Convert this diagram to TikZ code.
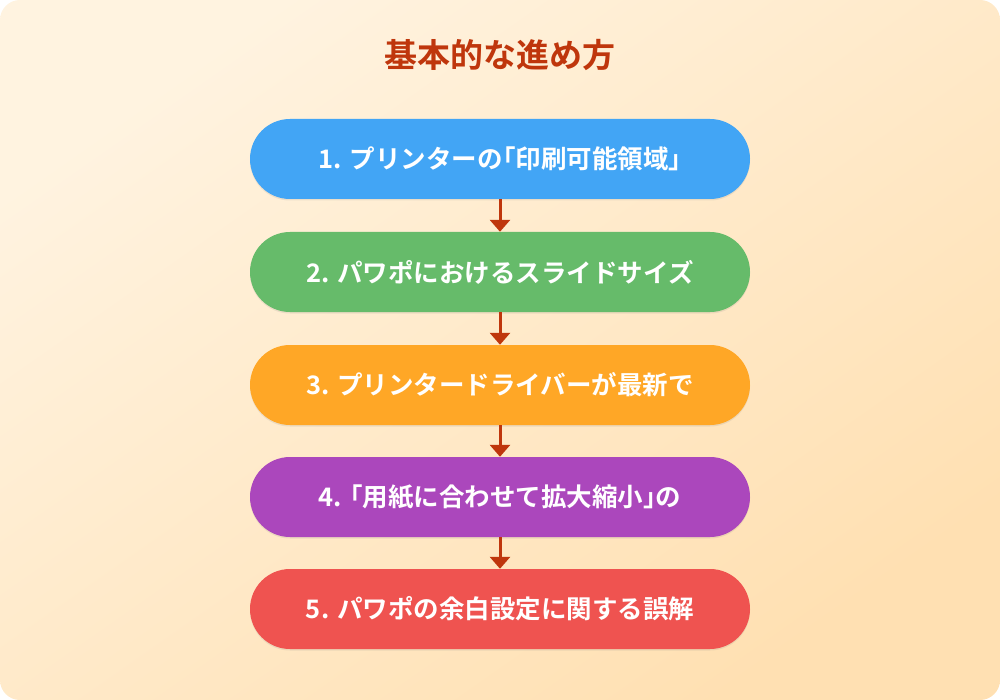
\documentclass[tikz,border=0pt]{standalone}
\usepackage{fontspec}
\setmainfont{Noto Sans CJK JP}[BoldFont={* Bold}]
\newfontfamily\jpb{Noto Sans CJK JP Bold}
\newfontfamily\jpbh{Noto Sans CJK JP Bold}[RawFeature=+halt]
\newcommand{\hbr}[1]{{\jpbh #1}}
\usetikzlibrary{arrows.meta,shadows}
\definecolor{bgA}{HTML}{FFF3E0}
\definecolor{bgB}{HTML}{FFE0B2}
\definecolor{ttl}{HTML}{BF360C}
\definecolor{cA}{HTML}{42A5F5}
\definecolor{cB}{HTML}{66BB6A}
\definecolor{cC}{HTML}{FFA726}
\definecolor{cD}{HTML}{AB47BC}
\definecolor{cE}{HTML}{EF5350}
\begin{document}
\begin{tikzpicture}[x=1pt,y=-1pt,
  stepbox/.style={rounded corners=40pt,minimum width=500pt,minimum height=80pt,
    inner sep=0pt,text=white,font=\jpb\fontsize{25.5}{30}\selectfont,
    drop shadow={shadow xshift=0pt,shadow yshift=-1.5pt,opacity=0.15}},
  flow/.style={draw=ttl,line width=3pt,-{Triangle[width=20pt,length=12pt]}}]
\useasboundingbox (0,0) rectangle (1000,700);
\shade[rounded corners=20pt,top color=bgA,bottom color=bgB,shading angle=35]
  (0,0) rectangle (1000,700);
\node[text=ttl,font=\jpb\fontsize{33}{38}\selectfont] (title) at (500,55) {基本的な進め方};
\node[stepbox,fill=cA] (s1) at (500,159) {1. プリンターの\hbr{「}印刷可能領域\hbr{」}};
\node[stepbox,fill=cB] (s2) at (500,272) {2. パワポにおけるスライドサイズ};
\node[stepbox,fill=cC] (s3) at (500,385) {3. プリンタードライバーが最新で};
\node[stepbox,fill=cD] (s4) at (500,497) {4. \hbr{「}用紙に合わせて拡大縮小\hbr{」}の};
\node[stepbox,fill=cE] (s5) at (500,609) {5. パワポの余白設定に関する誤解};
\draw[flow] (s1) -- (s2);
\draw[flow] (s2) -- (s3);
\draw[flow] (s3) -- (s4);
\draw[flow] (s4) -- (s5);
\end{tikzpicture}
\end{document}
